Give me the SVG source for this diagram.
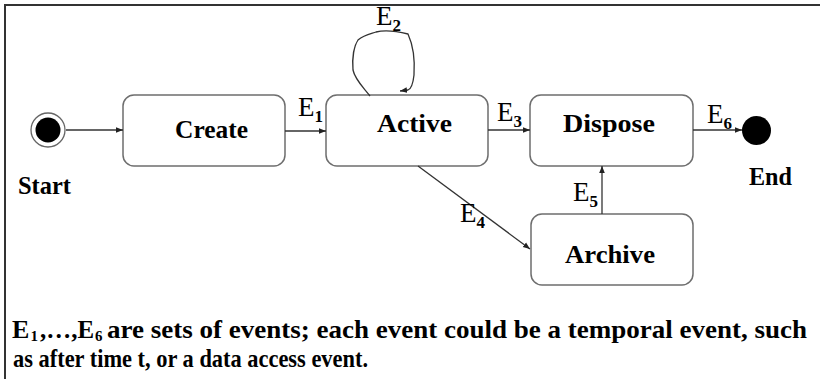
<svg xmlns="http://www.w3.org/2000/svg" width="820" height="379" viewBox="0 0 820 379">
<style>
.box{fill:#fff;stroke:#6e6e6e;stroke-width:1.5}
.lbl{font-family:"Liberation Serif","Times New Roman",serif;font-weight:bold;font-size:26px;fill:#000}
.ev{font-family:"Liberation Serif","Times New Roman",serif;font-size:27px;fill:#000}
.sub{font-size:17px;font-weight:bold}
.edge{fill:none;stroke:#333;stroke-width:1.3}
.cap{font-family:"Liberation Serif","Times New Roman",serif;font-weight:bold;font-size:26px;fill:#000}
.csub{font-size:15px}
</style>
<defs>
<marker id="arr" viewBox="0 0 10 10" refX="10" refY="5" markerWidth="7" markerHeight="7" markerUnits="userSpaceOnUse" orient="auto">
<path d="M0,1 L10,5 L0,9 Z" fill="#222"/>
</marker>
</defs>
<rect width="820" height="379" fill="#fff"/>
<path d="M5,379 V5 H820" fill="none" stroke="#333" stroke-width="2"/>

<g id="start">
<circle cx="48" cy="130" r="17" fill="#fff" stroke="#666" stroke-width="1.3"/>
<circle cx="48" cy="130" r="12.5" fill="#000"/>
<text class="lbl" x="18" y="194" font-size="24" textLength="53" lengthAdjust="spacingAndGlyphs">Start</text>
</g>
<g id="create">
<rect class="box" x="123" y="95" width="162" height="71" rx="11"/>
<text class="lbl" x="175" y="138" textLength="73" lengthAdjust="spacingAndGlyphs">Create</text>
</g>
<g id="active">
<rect class="box" x="326" y="95" width="162" height="71" rx="11"/>
<text class="lbl" x="377" y="132" textLength="75" lengthAdjust="spacingAndGlyphs">Active</text>
</g>
<g id="dispose">
<rect class="box" x="530" y="95" width="163" height="71" rx="11"/>
<text class="lbl" x="563" y="132" textLength="92" lengthAdjust="spacingAndGlyphs">Dispose</text>
</g>
<g id="archive">
<rect class="box" x="531" y="214" width="162" height="71" rx="11"/>
<text class="lbl" x="565" y="263" textLength="90" lengthAdjust="spacingAndGlyphs">Archive</text>
</g>
<g id="end">
<circle cx="756.5" cy="130.5" r="14.5" fill="#000"/>
<text class="lbl" x="749" y="185" font-size="24" textLength="43" lengthAdjust="spacingAndGlyphs">End</text>
</g>

<g id="connectors">
<path class="edge" d="M66,130 H123" marker-end="url(#arr)"/>
<path class="edge" d="M285,131 H326" marker-end="url(#arr)"/>
<path class="edge" d="M488,130 H530" marker-end="url(#arr)"/>
<path class="edge" d="M693,130 H742" marker-end="url(#arr)"/>
<path class="edge" d="M418,166 L530,249" marker-end="url(#arr)"/>
<path class="edge" d="M602,214 V166" marker-end="url(#arr)"/>
<path class="edge" d="M370,96 C364,88 355,80 353,70 C352,58 354,46 358,40 C364,35 370,34 376,32 C384,30 396,31 408,34 C413,45 415,60 414,75 C413,84 411,89 408,90 L400,91" marker-end="url(#arr)"/>
<text class="ev" x="298" y="116">E<tspan class="sub" dy="6">1</tspan></text>
<text class="ev" x="376" y="25">E<tspan class="sub" dy="6">2</tspan></text>
<text class="ev" x="497" y="121">E<tspan class="sub" dy="6">3</tspan></text>
<text class="ev" x="460" y="222">E<tspan class="sub" dy="6">4</tspan></text>
<text class="ev" x="573" y="201">E<tspan class="sub" dy="6">5</tspan></text>
<text class="ev" x="707" y="123">E<tspan class="sub" dy="6">6</tspan></text>
</g>

<g id="caption">
<text class="cap" x="12" y="338">E<tspan class="csub" x="30.5" dy="3">1</tspan><tspan x="40" dy="-3" textLength="54" lengthAdjust="spacingAndGlyphs">,…,E</tspan><tspan class="csub" x="95" dy="3">6</tspan><tspan x="107" dy="-3" textLength="700" lengthAdjust="spacingAndGlyphs">are sets of events; each event could be a temporal event, such</tspan></text>
<text class="cap" x="13" y="367" font-size="25" textLength="355" lengthAdjust="spacingAndGlyphs">as after time t, or a data access event.</text>
</g>
</svg>
